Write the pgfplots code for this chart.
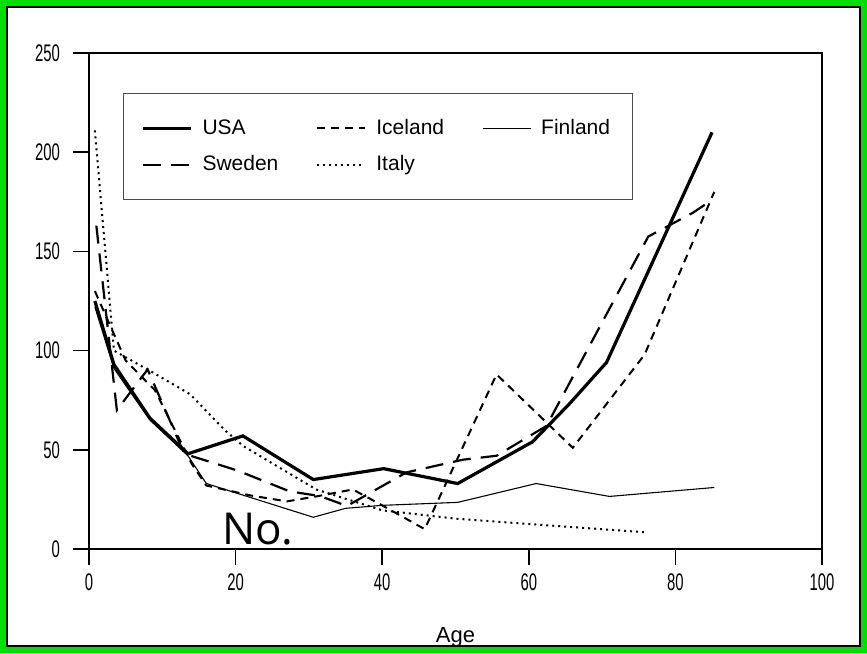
\documentclass[border=0pt]{standalone}
\usepackage{fontspec}
\setmainfont{Liberation Sans}
\newfontfamily\tickfont{Liberation Sans}[FakeStretch=0.62]
\newfontfamily\nofont{Open Sans}
\usepackage{pgfplots}
\pgfplotsset{compat=1.18}
\begin{document}
\begin{tikzpicture}
\useasboundingbox (-44.5pt,-52pt) rectangle (389pt,274.5pt);
\fill[white] (-44.5pt,-52pt) rectangle (389pt,274.5pt);
\begin{axis}[
  scale only axis,
  width=366.5pt, height=248pt,
  xmin=0, xmax=100, ymin=0, ymax=250,
  xtick={0,20,40,60,80,100},
  ytick={0,50,100,150,200,250},
  tick pos=left,
  tick align=outside,
  major tick length=8pt,
  every tick/.style={black, line width=0.8pt},
  axis line style={line width=0.9pt},
  /pgf/number format/assume math mode=true,
  tick label style={font=\tickfont\fontsize{12}{14}\selectfont},
  yticklabel style={xshift=-3pt},
  xticklabel style={yshift=-1pt},
  xlabel={Age},
  every axis x label/.style={at={(axis description cs:0.5,0)}, anchor=center, yshift=-44pt, font=\fontsize{11}{13}\selectfont},
  legend columns=3,
  legend cell align=left,
  legend image code/.code={\draw[#1] (0pt,0pt) -- (24pt,0pt);},
  legend style={at={(rel axis cs:0.046,0.92)}, anchor=north west,
    draw=black!70, line width=0.6pt, inner xsep=9pt, inner ysep=11pt,
    row sep=5pt, font=\fontsize{10.5}{12}\selectfont,
    /tikz/every odd column/.append style={column sep=3pt},
    /tikz/every even column/.append style={column sep=17pt}},
]
\addplot[black, line width=1.6pt] coordinates {
 (0.8,125) (3.4,93) (8.3,66) (13.5,48) (21,57) (30.6,35) (40.2,40.5)
 (50.3,33) (60.5,54) (65.5,73) (70.6,94) (85,210)};
\addlegendentry{USA}
\addplot[black, line width=1pt, dash pattern=on 4pt off 3pt] coordinates {
 (0.8,130) (5,95) (9,80) (14,43) (16,32) (22,27) (27,24) (31,26.5) (36,30)
 (40,22) (45.8,10) (55.6,88) (66,51) (75.8,98) (85.3,180)};
\addlegendentry{Iceland}
\addplot[black, line width=0.55pt] coordinates {
 (0.8,122) (3.4,91) (8.3,65) (13.5,47) (16,33) (22,26) (30.6,16) (35,20.5)
 (40,22) (50.3,23.5) (61,33) (71,26.5) (85.3,31)};
\addlegendentry{Finland}
\addplot[black, line width=1.1pt, dash pattern=on 9pt off 5pt] coordinates {
 (1,163) (3.8,70) (8,90.5) (13,48) (20.3,39.5) (27.4,29) (31.5,26.7) (35.2,21.7)
 (43.3,38.6) (51,45) (55.6,47) (62.4,62) (76.3,157.5) (82.4,169.5) (85,176)};
\addlegendentry{Sweden}
\addplot[black, line width=1pt, dash pattern=on 1pt off 2pt] coordinates {
 (0.8,211) (3.4,100) (8.7,89) (13.8,78) (18.5,60) (21,52) (31,30) (40,19.5)
 (50,15.3) (60,12.6) (76,8.4)};
\addlegendentry{Italy}
\node[anchor=base west, inner sep=0pt, font=\nofont\fontsize{22}{24}\selectfont] at (axis cs:18.1,2.2) {No.};
\end{axis}
\draw[green!70!black!40!green, line width=3pt] (-43pt,-50.5pt) rectangle (387.5pt,273pt);
\draw[black, line width=0.8pt] (-41.1pt,-48.6pt) rectangle (385.6pt,271.1pt);
\end{tikzpicture}
\end{document}
